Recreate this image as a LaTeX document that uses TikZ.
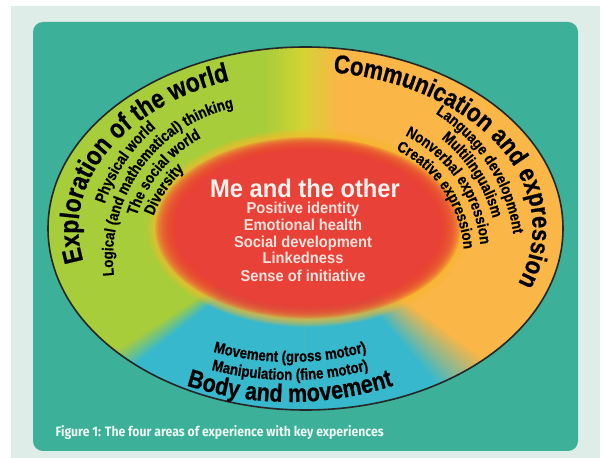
\documentclass[tikz,border=0pt]{standalone}
\usepackage{fontspec}
\setmainfont{Liberation Sans}
\newfontfamily\arcfam[FakeStretch=0.85, FakeBold=0.7]{Liberation Sans}
\newfontfamily\midfam[FakeStretch=0.93]{Liberation Sans}
\newfontfamily\capfam[FakeStretch=0.9]{Fira Sans}
\usetikzlibrary{decorations.text}

\definecolor{paper}{RGB}{222,237,232}
\definecolor{tealbg}{RGB}{60,176,152}
\definecolor{limeC}{RGB}{168,205,58}
\definecolor{bandC}{RGB}{210,212,52}
\definecolor{orangeC}{RGB}{250,182,70}
\definecolor{blueC}{RGB}{56,184,204}
\definecolor{redC}{RGB}{232,66,56}
\definecolor{haloC}{RGB}{248,190,48}
\definecolor{titleW}{RGB}{255,242,238}
\definecolor{itemW}{RGB}{250,226,220}
\definecolor{capW}{RGB}{236,248,244}

\newcommand\itemfnt{\arcfam\bfseries\fontsize{15.6}{15.6}\selectfont}

\tikzset{
  arclabel/.style={decorate, decoration={text along path, text align=center, text={#1}}},
  arclabelL/.style={decorate, decoration={text along path, text align=left, text={#1}}},
  centertitle/.style={anchor=base, text=titleW, font=\midfam\bfseries\fontsize{25.5}{25.5}\selectfont},
  centeritem/.style={anchor=base, text=itemW, font=\midfam\bfseries\fontsize{15.8}{15.8}\selectfont},
}

\begin{document}
\begin{tikzpicture}[x=1pt,y=1pt]
\useasboundingbox (0,0) rectangle (606,458);
\fill[white] (0,0) rectangle (606,458);
\fill[paper] (11,0) rectangle (600,452);
\fill[tealbg, rounded corners=10pt] (33,7) rectangle (578,436);

\coordinate (ec) at (305.5,229.5);
\coordinate (lc) at (267,200);
\coordinate (rc) at (344,200);
\coordinate (bc) at (290,389);

% the four areas inside the big ellipse
\begin{scope}
  \clip (ec) ellipse [x radius=257.5pt, y radius=181.5pt];
  \fill[limeC] (40,40) rectangle (266,420);
  \shade[left color=limeC, right color=bandC] (265,40) rectangle (302,420);
  \shade[left color=bandC, right color=orangeC] (301,40) rectangle (340,420);
  \fill[orangeC] (339,40) rectangle (570,420);
  \begin{scope}[shift={(305.5,229.5)}]
    \foreach \k in {0,...,12}{
      \pgfmathsetmacro\ang{212.5+0.5*\k}
      \pgfmathtruncatemacro\mix{round(100*\k/12)}
      \fill[blueC!\mix!limeC] (0,0) -- (\ang:400) -- (270:400) -- cycle;
    }
    \foreach \k in {0,...,14}{
      \pgfmathsetmacro\ang{324.5-1.0*\k}
      \pgfmathtruncatemacro\mix{round(100*\k/14)}
      \fill[blueC!\mix!orangeC] (0,0) -- (270:400) -- (\ang:400) -- cycle;
    }
  \end{scope}
\end{scope}

% soft glow and red core
\begin{scope}[shift={(308,230)}]
  \foreach \k in {0,...,14}{
    \pgfmathsetmacro\rx{161-1*\k}
    \pgfmathsetmacro\ry{99-0.7*\k}
    \fill[haloC, opacity=0.11] (0,0) ellipse [x radius=\rx pt, y radius=\ry pt];
  }
  \foreach \k in {0,...,19}{
    \pgfmathsetmacro\rx{153-0.95*\k}
    \pgfmathsetmacro\ry{91-0.6*\k}
    \fill[redC, opacity=0.13] (0,0) ellipse [x radius=\rx pt, y radius=\ry pt];
  }
  \fill[redC] (0,0) ellipse [x radius=134pt, y radius=79pt];
\end{scope}

\draw[line width=1.6pt, black!85] (ec) ellipse [x radius=257.5pt, y radius=181.5pt];

% area titles along the rim
\path[arclabelL={|\arcfam\bfseries\fontsize{26.8}{26.8}\selectfont|Exploration of the world}]
  ([shift={(192:227pt and 157pt)}]ec) arc[start angle=192, end angle=70, x radius=227pt, y radius=157pt];
\path[arclabelL={|\arcfam\bfseries\fontsize{25.9}{25.9}\selectfont|Communication and expression}]
  ([shift={(83:227pt and 157pt)}]ec) arc[start angle=83, end angle=-50, x radius=227pt, y radius=157pt];
\path[arclabel={|\arcfam\bfseries\fontsize{25.2}{25.2}\selectfont|Body and movement}]
  ([shift={(248:333pt)}]bc) arc[start angle=248, end angle=292, radius=333pt];

% key experiences, left
\path[arclabel={|\itemfnt|Physical world}]
  ([shift={(196:171pt)}]lc) arc[start angle=196, end angle=96, radius=171pt];
\path[arclabel={|\itemfnt|Logical (and mathematical) thinking}]
  ([shift={(200:154pt)}]lc) arc[start angle=200, end angle=89, radius=154pt];
\path[arclabel={|\itemfnt|The social world}]
  ([shift={(190.4:137pt)}]lc) arc[start angle=190.4, end angle=90.4, radius=137pt];
\path[arclabel={|\itemfnt|Diversity}]
  ([shift={(186.4:121pt)}]lc) arc[start angle=186.4, end angle=106.4, radius=121pt];

% key experiences, right
\path[arclabel={|\itemfnt|Language development}]
  ([shift={(82.85:171pt)}]rc) arc[start angle=82.85, end angle=-17.15, radius=171pt];
\path[arclabel={|\itemfnt|Multilingualism}]
  ([shift={(72.9:154pt)}]rc) arc[start angle=72.9, end angle=-7.1, radius=154pt];
\path[arclabel={|\itemfnt|Nonverbal expression}]
  ([shift={(84.55:137pt)}]rc) arc[start angle=84.55, end angle=-15.45, radius=137pt];
\path[arclabel={|\itemfnt|Creative expression}]
  ([shift={(84.25:120pt)}]rc) arc[start angle=84.25, end angle=-15.75, radius=120pt];

% key experiences, bottom
\path[arclabel={|\itemfnt|Movement (gross motor)}]
  ([shift={(250:293pt)}]bc) arc[start angle=250, end angle=290, radius=293pt];
\path[arclabel={|\itemfnt|Manipulation (fine motor)}]
  ([shift={(250:311pt)}]bc) arc[start angle=250, end angle=290, radius=311pt];

% centre
\node[centertitle] (me) at (305,260) {Me and the other};
\node[centeritem] (i1) at (303,244) {Positive identity};
\node[centeritem] (i2) at (303,227) {Emotional health};
\node[centeritem] (i3) at (303,210) {Social development};
\node[centeritem] (i4) at (303,194) {Linkedness};
\node[centeritem] (i5) at (303,176) {Sense of initiative};

\node[anchor=base west, text=capW, font=\capfam\bfseries\fontsize{13.6}{13.6}\selectfont] (cap) at (52,21)
  {Figure 1: The four areas of experience with key experiences};
\end{tikzpicture}
\end{document}
